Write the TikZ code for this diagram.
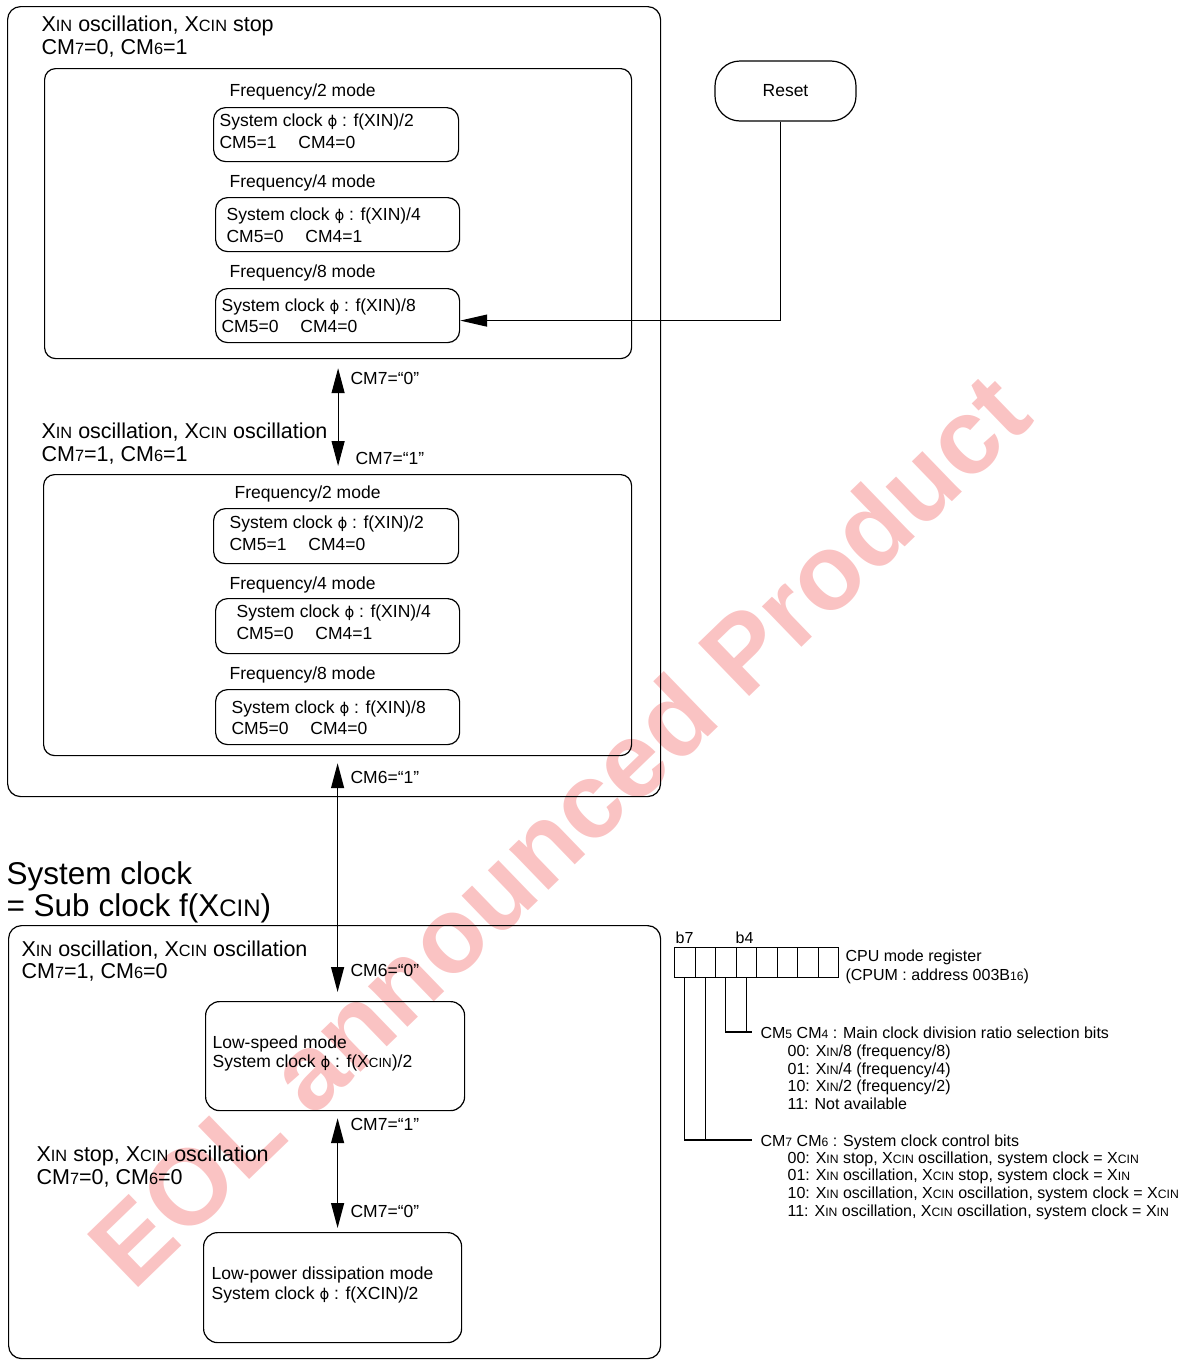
\documentclass[tikz,border=0pt]{standalone}
\usepackage{fontspec}
\setmainfont{Liberation Sans}
\newfontfamily\phifont{DejaVu Sans}
\newfontfamily\wmfont{Liberation Sans}[BoldFont={* Bold}]
\usepackage{graphicx}
\usetikzlibrary{arrows.meta,calc}
\newcommand\sm[1]{\scalebox{0.76}{#1}}
\newcommand\phiv{{\phifont\scalebox{0.85}{ϕ}}}
\definecolor{wmpink}{RGB}{250,195,195}
\begin{document}
\begin{tikzpicture}[x=1pt,y=-1pt,line width=1.2pt,
  frame/.style={draw,rounded corners=13pt,anchor=north west,inner sep=0pt},
  modebox/.style={draw,rounded corners=12pt,anchor=north west,inner sep=0pt},
  hd/.style={anchor=base west,inner sep=0pt,font=\fontsize{21.5}{26}\selectfont},
  bx/.style={anchor=base west,inner sep=0pt,font=\fontsize{17.5}{21}\selectfont},
  big/.style={anchor=base west,inner sep=0pt,font=\fontsize{31.5}{38}\selectfont},
  rg/.style={anchor=base west,inner sep=0pt,font=\fontsize{16}{18}\selectfont},
  cell/.style={draw,anchor=north west,inner sep=0pt,minimum width=20.5pt,minimum height=30pt},
  dbl/.style={{Triangle[length=25pt,width=13pt]}-{Triangle[length=25pt,width=13pt]}},
  wm/.style={text=wmpink,inner sep=0pt,rotate=44,font=\wmfont\bfseries\fontsize{107}{117}\selectfont}]
\useasboundingbox (0,0) rectangle (1186,1360);
% watermark
\node[wm] (wm) at (558,829) {EOL announced Product};

% ---------- upper outer frame ----------
\node[frame,minimum width=653pt,minimum height=790pt] (OA) at (7,6) {};
\node[hd] (hA1) at (41,31) {X\sm{IN} oscillation, X\sm{CIN} stop};
\node[hd] (hA2) at (41,54) {CM\sm{7}=0, CM\sm{6}=1};

\node[frame,rounded corners=11pt,minimum width=587pt,minimum height=290pt] (FA) at (44,68) {};
\node[bx] (fa2) at (229,96) {Frequency/2 mode};
\node[modebox,minimum width=245pt,minimum height=54pt] (A2) at (213,107) {};
\node[bx] (a2l1) at (219,126) {System clock \phiv\ : f(XIN)/2};
\node[bx] (a2l2) at (219,148) {CM5=1\hspace{22pt}CM4=0};
\node[bx] (fa4) at (229,187) {Frequency/4 mode};
\node[modebox,minimum width=244pt,minimum height=54pt] (A4) at (215,197) {};
\node[bx] (a4l1) at (226,220) {System clock \phiv\ : f(XIN)/4};
\node[bx] (a4l2) at (226,242) {CM5=0\hspace{22pt}CM4=1};
\node[bx] (fa8) at (229,277) {Frequency/8 mode};
\node[modebox,minimum width=244pt,minimum height=54pt] (A8) at (215,288) {};
\node[bx] (a8l1) at (221,311) {System clock \phiv\ : f(XIN)/8};
\node[bx] (a8l2) at (221,332) {CM5=0\hspace{22pt}CM4=0};

% Reset
\node[draw,rounded corners=25pt,minimum width=141pt,minimum height=60pt,inner sep=0pt,
      font=\fontsize{17.5}{21}\selectfont] (R) at (785.5,91) {Reset};
\draw[-{Triangle[length=27pt,width=12pt]}] ($(R.south)+(-5,0)$) |- ($(A8.east)+(0,5)$);

% CM7 arrows
\draw[dbl,shorten <=9pt,shorten >=8pt] (FA.south) -- (FA.south |- 0,474);
\node[bx] (l70) at (350,384) {CM7=“0”};
\node[bx] (l71) at (355,464) {CM7=“1”};
\node[hd] (hB1) at (41,438) {X\sm{IN} oscillation, X\sm{CIN} oscillation};
\node[hd] (hB2) at (41,461) {CM\sm{7}=1, CM\sm{6}=1};

\node[frame,rounded corners=11pt,minimum width=588pt,minimum height=281pt] (FB) at (43,474) {};
\node[bx] (fb2) at (234,498) {Frequency/2 mode};
\node[modebox,minimum width=245pt,minimum height=55pt] (B2) at (213,508) {};
\node[bx] (b2l1) at (229,528) {System clock \phiv\ : f(XIN)/2};
\node[bx] (b2l2) at (229,550) {CM5=1\hspace{22pt}CM4=0};
\node[bx] (fb4) at (229,589) {Frequency/4 mode};
\node[modebox,minimum width=244pt,minimum height=55pt] (B4) at (215,598) {};
\node[bx] (b4l1) at (236,617) {System clock \phiv\ : f(XIN)/4};
\node[bx] (b4l2) at (236,639) {CM5=0\hspace{22pt}CM4=1};
\node[bx] (fb8) at (229,679) {Frequency/8 mode};
\node[modebox,minimum width=244pt,minimum height=55pt] (B8) at (215,689) {};
\node[bx] (b8l1) at (231,713) {System clock \phiv\ : f(XIN)/8};
\node[bx] (b8l2) at (231,734) {CM5=0\hspace{22pt}CM4=0};

\node[bx] (l61) at (350,783) {CM6=“1”};

% ---------- sub clock ----------
\node[big] (s1) at (6,884) {System clock};
\node[big] (s2) at (6,916) {= Sub clock f(X\sm{CIN})};

\node[frame,minimum width=652pt,minimum height=433pt] (OC) at (8,925) {};
\node[hd] (hC1) at (21,956) {X\sm{IN} oscillation, X\sm{CIN} oscillation};
\node[hd] (hC2) at (21,978) {CM\sm{7}=1, CM\sm{6}=0};
\node[bx] (l60) at (350,976) {CM6=“0”};

\node[modebox,rounded corners=14pt,minimum width=259pt,minimum height=109pt] (LS) at (205,1001) {};
\node[bx] (ls1) at (212,1048) {Low-speed mode};
\node[bx] (ls2) at (212,1067) {System clock \phiv\ : f(X\sm{CIN})/2};

\draw[dbl,shorten <=7pt,shorten >=9pt] (FB.south) -- (FB.south |- LS.north);

\node[bx] (m71) at (350,1130) {CM7=“1”};
\node[hd] (hD1) at (36,1161) {X\sm{IN} stop, X\sm{CIN} oscillation};
\node[hd] (hD2) at (36,1184) {CM\sm{7}=0, CM\sm{6}=0};
\node[bx] (m70) at (350,1217) {CM7=“0”};

\node[modebox,rounded corners=14pt,minimum width=258pt,minimum height=110pt] (LP) at (203,1232) {};
\node[bx] (lp1) at (211,1279) {Low-power dissipation mode};
\node[bx] (lp2) at (211,1299) {System clock \phiv\ : f(XCIN)/2};

\draw[dbl,shorten <=7pt,shorten >=4pt] (LS.south -| FB.south) -- (LP.north -| FB.south);

% ---------- register ----------
\foreach \i in {0,...,7} {\node[cell] (c\i) at ({674+\i*20.5},947) {};}
\node[rg] (b7) at (675,943) {b7};
\node[rg] (b4) at (735,943) {b4};
\node[rg] (cpu1) at (845,961) {CPU mode register};
\node[rg] (cpu2) at (845,980) {(CPUM : address 003B\sm{16})};

\coordinate (j54) at (752,1032);
\coordinate (j76) at (752,1140);
\draw (c2.south) |- (j54);
\draw (c3.south) -- (c3.south |- j54);
\draw (c0.south) |- (j76);
\draw (c1.south) -- (c1.south |- j76);

\node[rg] (r54) at (760,1038) {CM\sm5 CM\sm4 : Main clock division ratio selection bits};
\node[rg] (r54a) at (787,1056) {00: X\sm{IN}/8 (frequency/8)};
\node[rg] (r54b) at (787,1074) {01: X\sm{IN}/4 (frequency/4)};
\node[rg] (r54c) at (787,1091) {10: X\sm{IN}/2 (frequency/2)};
\node[rg] (r54d) at (787,1109) {11: Not available};
\node[rg] (r76) at (760,1146) {CM\sm7 CM\sm6 : System clock control bits};
\node[rg] (r76a) at (787,1163) {00: X\sm{IN} stop, X\sm{CIN} oscillation, system clock = X\sm{CIN}};
\node[rg] (r76b) at (787,1180) {01: X\sm{IN} oscillation, X\sm{CIN} stop, system clock = X\sm{IN}};
\node[rg] (r76c) at (787,1198) {10: X\sm{IN} oscillation, X\sm{CIN} oscillation, system clock = X\sm{CIN}};
\node[rg] (r76d) at (787,1216) {11: X\sm{IN} oscillation, X\sm{CIN} oscillation, system clock = X\sm{IN}};
\end{tikzpicture}
\end{document}
